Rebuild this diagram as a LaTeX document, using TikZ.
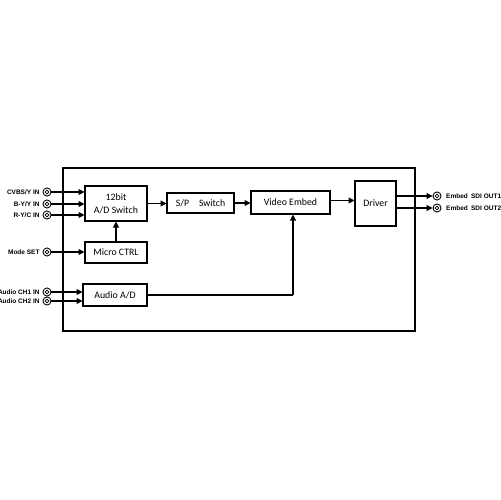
\documentclass[tikz,border=0pt]{standalone}
\usepackage{fontspec}
\setmainfont{Carlito}
\newfontfamily\portfont{Liberation Sans}
\usepackage{tikz}
\usetikzlibrary{arrows.meta,positioning,calc}
\tikzset{
  blk/.style={rectangle,draw,line width=0.6pt,inner sep=0pt,
              font=\fontsize{5.6}{6.4}\selectfont,align=center},
  port/.style={circle,draw,line width=0.5pt,minimum size=4.6pt,inner sep=0pt,
               path picture={\draw[line width=0.4pt]
                 (path picture bounding box.center) circle (1.1pt);}},
  plab/.style={font=\portfont\bfseries\fontsize{3.7}{4}\selectfont,inner sep=1pt},
  arr/.style={-{Triangle[length=3.4pt,width=3.4pt]},line width=0.6pt},
  wire/.style={line width=0.6pt},
}
\begin{document}
\begin{tikzpicture}[x=0.02cm,y=-0.02cm]
  \useasboundingbox (0,0) rectangle (500,500);
  %% Frame
  \draw[line width=1pt] (63,168) rectangle (415,331);
  %% Blocks
  \node[blk,minimum width=62*0.02cm,minimum height=35*0.02cm] (adsw) at (116,203.5)
    {12bit\\[1pt]A/D Switch};
  \node[blk,minimum width=62*0.02cm,minimum height=21*0.02cm] (micro) at (116,252.5)
    {Micro CTRL};
  \node[blk,minimum width=64*0.02cm,minimum height=22*0.02cm] (audio) at (115,295)
    {Audio A/D};
  \node[blk,minimum width=67*0.02cm,minimum height=20*0.02cm] (sp) at (200.5,203)
    {S/P\quad Switch};
  \node[blk,minimum width=79*0.02cm,minimum height=23*0.02cm] (embed) at (290.5,202.5)
    {Video Embed};
  \node[blk,minimum width=41*0.02cm,minimum height=45*0.02cm] (drv) at (375.5,203.5)
    {Driver};
  %% Input ports
  \foreach \nm/\yy/\txt/\dst in {cv/192/{CVBS/Y IN}/adsw, by/204/{B-Y/Y IN}/adsw,
      ry/215/{R-Y/C IN}/adsw, ms/252/{Mode SET}/micro,
      a1/292/{Audio CH1 IN}/audio, a2/301/{Audio CH2 IN}/audio}{
    \node[port] (\nm) at (47,\yy) {};
    \node[plab,left=0.5pt of \nm] (\nm l) {\txt};
    \draw[arr] (\nm.east) -- (\nm.east -| \dst.west);
  }
  %% Output ports
  \foreach \nm/\yy/\txt in {o1/196/OUT1, o2/208/OUT2}{
    \node[port] (\nm) at (437,\yy) {};
    \node[plab,right=1.5pt of \nm] (\nm l) {Embed\enspace SDI \txt};
    \draw[arr] (\nm.west -| drv.east) -- (\nm.west);
  }
  %% Internal connections
  \draw[arr] (adsw.east) -- (adsw.east -| sp.west);
  \draw[arr] (sp.east) -- (sp.east -| embed.west);
  \draw[arr] ($(embed.east)+(0,-2)$) -- ($(embed.east -| drv.west)+(0,-2)$);
  \draw[arr] (micro.north) -- (adsw.south);
  \coordinate (turn) at (293,295);
  \draw[wire] (audio.east) -- (turn);
  \draw[arr] (turn) -- (turn |- embed.south);
\end{tikzpicture}
\end{document}
